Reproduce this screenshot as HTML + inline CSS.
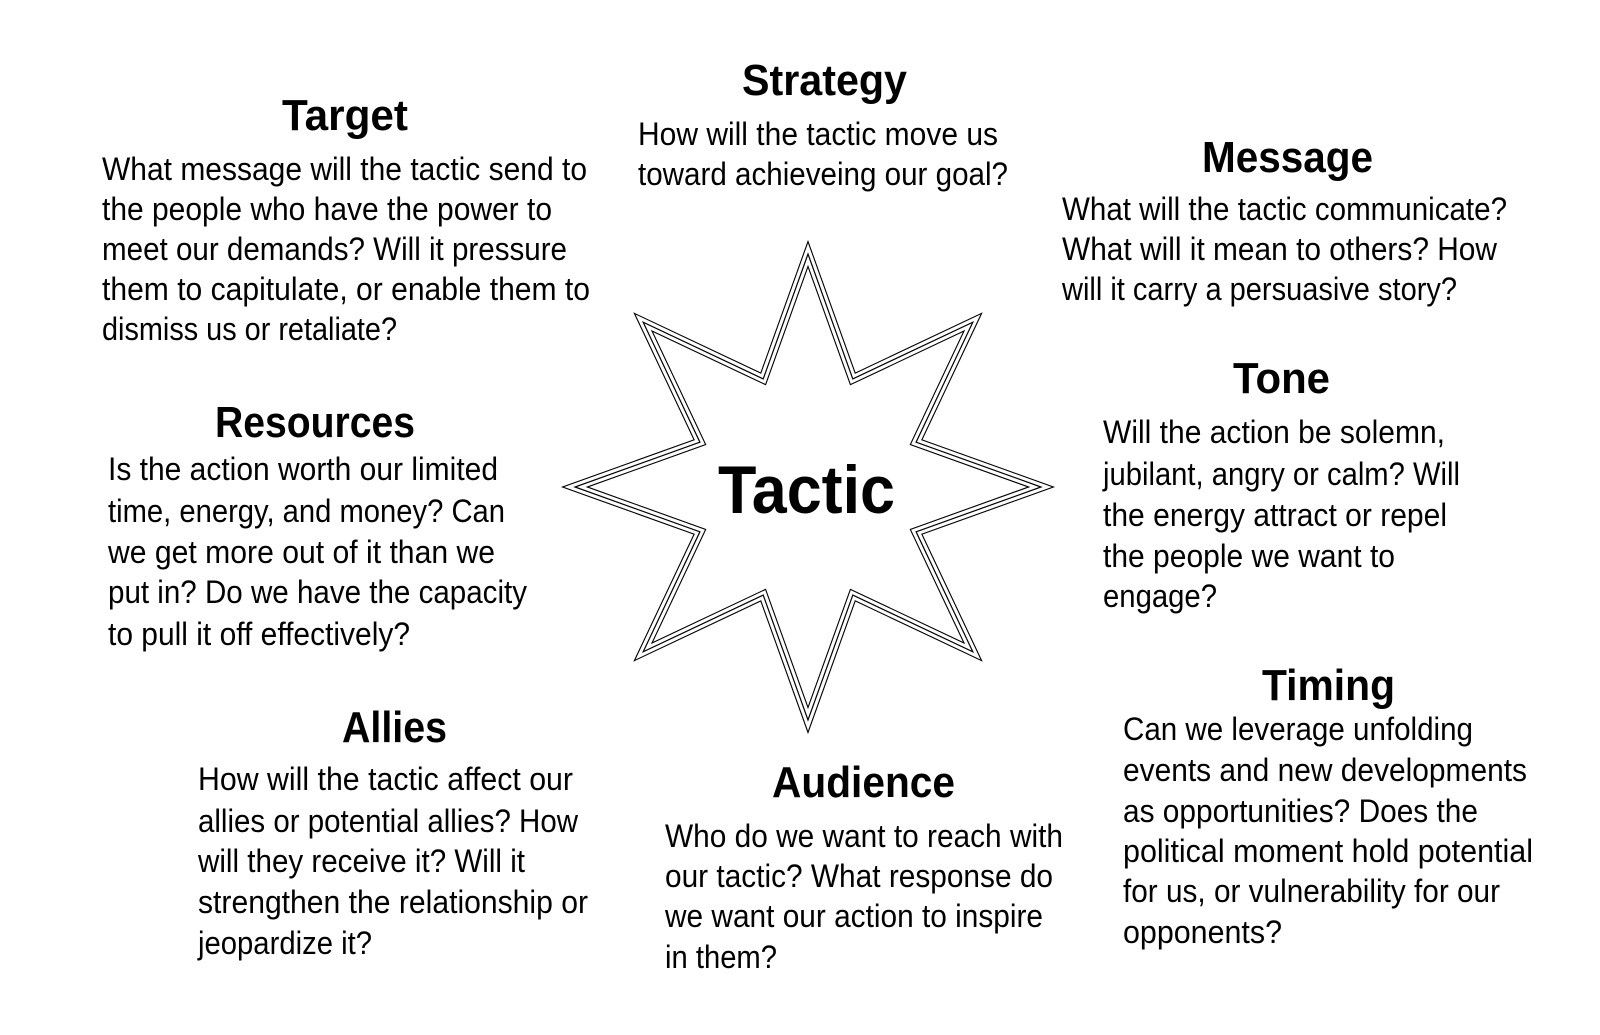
<!DOCTYPE html>
<html><head><meta charset="utf-8">
<style>
html,body{margin:0;padding:0;background:#fff;}
svg{display:block;}
text{font-family:"Liberation Sans",sans-serif;fill:#000;}
.t{font-weight:bold;font-size:44px;}
.b{font-size:32px;}
</style></head>
<body>
<svg width="1600" height="1035" viewBox="0 0 1600 1035" xmlns="http://www.w3.org/2000/svg">
<rect width="1600" height="1035" fill="#fff"/>
<g fill="none" stroke-linejoin="miter" stroke-miterlimit="20">
<polygon points="808,254 852.8,378.9 972.8,322.2 916.1,442.2 1041,487 916.1,531.8 972.8,651.8 852.8,595.1 808,720 763.2,595.1 643.2,651.8 699.9,531.8 575,487 699.9,442.2 643.2,322.2 763.2,378.9" stroke="#000" stroke-width="9.5"/>
<polygon points="808,254 852.8,378.9 972.8,322.2 916.1,442.2 1041,487 916.1,531.8 972.8,651.8 852.8,595.1 808,720 763.2,595.1 643.2,651.8 699.9,531.8 575,487 699.9,442.2 643.2,322.2 763.2,378.9" stroke="#fff" stroke-width="7.3"/>
<polygon points="808,254 852.8,378.9 972.8,322.2 916.1,442.2 1041,487 916.1,531.8 972.8,651.8 852.8,595.1 808,720 763.2,595.1 643.2,651.8 699.9,531.8 575,487 699.9,442.2 643.2,322.2 763.2,378.9" stroke="#000" stroke-width="1.2"/>
</g>
<text x="718" y="513" style="font-weight:bold;font-size:68px" textLength="177" lengthAdjust="spacingAndGlyphs">Tactic</text>

<text class="t" x="282" y="130" textLength="126" lengthAdjust="spacingAndGlyphs">Target</text>
<text class="b" x="102" y="180" textLength="485" lengthAdjust="spacingAndGlyphs">What message will the tactic send to</text>
<text class="b" x="102" y="220" textLength="450" lengthAdjust="spacingAndGlyphs">the people who have the power to</text>
<text class="b" x="102" y="260" textLength="465" lengthAdjust="spacingAndGlyphs">meet our demands? Will it pressure</text>
<text class="b" x="102" y="300" textLength="488" lengthAdjust="spacingAndGlyphs">them to capitulate, or enable them to</text>
<text class="b" x="102" y="340" textLength="295" lengthAdjust="spacingAndGlyphs">dismiss us or retaliate?</text>

<text class="t" x="742" y="95" textLength="165" lengthAdjust="spacingAndGlyphs">Strategy</text>
<text class="b" x="638" y="145" textLength="360" lengthAdjust="spacingAndGlyphs">How will the tactic move us</text>
<text class="b" x="638" y="185" textLength="370" lengthAdjust="spacingAndGlyphs">toward achieveing our goal?</text>

<text class="t" x="1202" y="172" textLength="171" lengthAdjust="spacingAndGlyphs">Message</text>
<text class="b" x="1062" y="220" textLength="445" lengthAdjust="spacingAndGlyphs">What will the tactic communicate?</text>
<text class="b" x="1062" y="260" textLength="435" lengthAdjust="spacingAndGlyphs">What will it mean to others? How</text>
<text class="b" x="1062" y="300" textLength="395" lengthAdjust="spacingAndGlyphs">will it carry a persuasive story?</text>

<text class="t" x="1233" y="393" textLength="97" lengthAdjust="spacingAndGlyphs">Tone</text>
<text class="b" x="1103" y="443" textLength="342" lengthAdjust="spacingAndGlyphs">Will the action be solemn,</text>
<text class="b" x="1103" y="485" textLength="357" lengthAdjust="spacingAndGlyphs">jubilant, angry or calm? Will</text>
<text class="b" x="1103" y="526" textLength="344" lengthAdjust="spacingAndGlyphs">the energy attract or repel</text>
<text class="b" x="1103" y="567" textLength="292" lengthAdjust="spacingAndGlyphs">the people we want to</text>
<text class="b" x="1103" y="607" textLength="114" lengthAdjust="spacingAndGlyphs">engage?</text>

<text class="t" x="1262" y="700" textLength="133" lengthAdjust="spacingAndGlyphs">Timing</text>
<text class="b" x="1123" y="740" textLength="350" lengthAdjust="spacingAndGlyphs">Can we leverage unfolding</text>
<text class="b" x="1123" y="781" textLength="404" lengthAdjust="spacingAndGlyphs">events and new developments</text>
<text class="b" x="1123" y="822" textLength="355" lengthAdjust="spacingAndGlyphs">as opportunities? Does the</text>
<text class="b" x="1123" y="862" textLength="410" lengthAdjust="spacingAndGlyphs">political moment hold potential</text>
<text class="b" x="1123" y="902" textLength="377" lengthAdjust="spacingAndGlyphs">for us, or vulnerability for our</text>
<text class="b" x="1123" y="943" textLength="159" lengthAdjust="spacingAndGlyphs">opponents?</text>

<text class="t" x="215" y="437" textLength="200" lengthAdjust="spacingAndGlyphs">Resources</text>
<text class="b" x="108" y="480" textLength="390" lengthAdjust="spacingAndGlyphs">Is the action worth our limited</text>
<text class="b" x="108" y="522" textLength="397" lengthAdjust="spacingAndGlyphs">time, energy, and money? Can</text>
<text class="b" x="108" y="563" textLength="387" lengthAdjust="spacingAndGlyphs">we get more out of it than we</text>
<text class="b" x="108" y="603" textLength="419" lengthAdjust="spacingAndGlyphs">put in? Do we have the capacity</text>
<text class="b" x="108" y="645" textLength="302" lengthAdjust="spacingAndGlyphs">to pull it off effectively?</text>

<text class="t" x="342" y="742" textLength="105" lengthAdjust="spacingAndGlyphs">Allies</text>
<text class="b" x="198" y="790" textLength="375" lengthAdjust="spacingAndGlyphs">How will the tactic affect our</text>
<text class="b" x="198" y="832" textLength="380" lengthAdjust="spacingAndGlyphs">allies or potential allies? How</text>
<text class="b" x="198" y="872" textLength="327" lengthAdjust="spacingAndGlyphs">will they receive it? Will it</text>
<text class="b" x="198" y="913" textLength="390" lengthAdjust="spacingAndGlyphs">strengthen the relationship or</text>
<text class="b" x="198" y="954" textLength="174" lengthAdjust="spacingAndGlyphs">jeopardize it?</text>

<text class="t" x="772" y="797" textLength="183" lengthAdjust="spacingAndGlyphs">Audience</text>
<text class="b" x="665" y="847" textLength="398" lengthAdjust="spacingAndGlyphs">Who do we want to reach with</text>
<text class="b" x="665" y="887" textLength="388" lengthAdjust="spacingAndGlyphs">our tactic? What response do</text>
<text class="b" x="665" y="927" textLength="378" lengthAdjust="spacingAndGlyphs">we want our action to inspire</text>
<text class="b" x="665" y="968" textLength="112" lengthAdjust="spacingAndGlyphs">in them?</text>
</svg>
</body></html>
